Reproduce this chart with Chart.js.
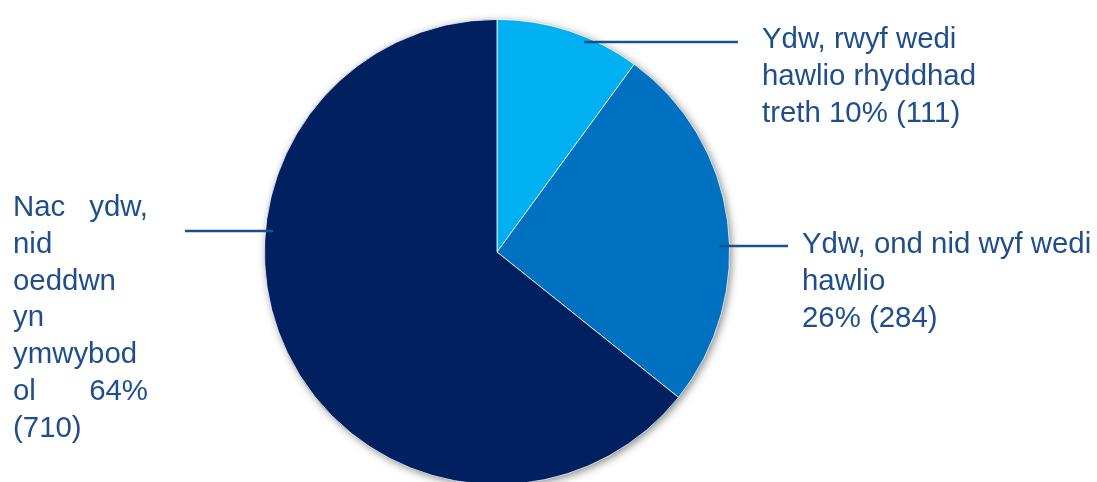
<!DOCTYPE html>
<html>
<head>
<meta charset="utf-8">
<script src="https://cdn.jsdelivr.net/npm/chart.js@4"></script>
<style>
  html, body { margin: 0; padding: 0; background: #fff; overflow: hidden; }
  #wrap { width: 1097px; height: 490px; }
</style>
</head>
<body>
<div id="wrap"><canvas id="pie-chart"></canvas></div>
<script>
// categories, written as the label lines shown beside each slice
var categories = [
  ["Ydw, rwyf wedi", "hawlio rhyddhad", "treth 10% (111)"],
  ["Ydw, ond nid wyf wedi", "hawlio", "26% (284)"],
  ["Nac ydw,", "nid", "oeddwn", "yn", "ymwybod", "ol 64%", "(710)"]
];
var counts = [111, 284, 710];
var sliceColors = ["#00B0F0", "#0070C0", "#002060"];

// where each label sits (annotation layout only)
var labelLayout = [
  { side: 1,  lineY: 42,  lineEnd: 738, inset: 13, textX: 762, firstBase: 48,  justify: 0 },
  { side: 1,  lineY: 246, lineEnd: 788, inset: 10, textX: 802, firstBase: 253, justify: 0 },
  { side: -1, lineY: 231, lineEnd: 185, inset: 8,  textX: 13,  firstBase: 216, justify: 135 }
];
var textColor = "#1F4E8C";
var lineColor = "#1A5090";
var fontSize = 29.4;
var lineHeight = 36.8;

var pieShadow = {
  id: "pieShadow",
  beforeDatasetsDraw: function(chart) {
    var arc = chart.getDatasetMeta(0).data[0];
    if (!arc) return;
    var ctx = chart.ctx;
    ctx.save();
    ctx.shadowColor = "rgba(0,0,0,0.5)";
    ctx.shadowBlur = 8;
    ctx.shadowOffsetX = 2;
    ctx.shadowOffsetY = 2;
    ctx.fillStyle = "#002060";
    ctx.beginPath();
    ctx.arc(arc.x, arc.y, arc.outerRadius - 0.5, 0, Math.PI * 2);
    ctx.fill();
    ctx.restore();
  }
};

var sideLabels = {
  id: "sideLabels",
  afterDatasetsDraw: function(chart) {
    var arc = chart.getDatasetMeta(0).data[0];
    if (!arc) return;
    var ctx = chart.ctx;
    var cx = arc.x, cy = arc.y, r = arc.outerRadius;
    ctx.save();
    ctx.font = fontSize + "px 'Liberation Sans', Arial, sans-serif";
    ctx.textBaseline = "alphabetic";
    for (var i = 0; i < categories.length; i++) {
      var lay = labelLayout[i];
      var dy = lay.lineY - cy;
      var edge = cx + lay.side * Math.sqrt(r * r - dy * dy);
      var x0 = edge - lay.side * lay.inset;
      ctx.strokeStyle = lineColor;
      ctx.lineWidth = 2.5;
      ctx.beginPath();
      ctx.moveTo(x0, lay.lineY);
      ctx.lineTo(lay.lineEnd, lay.lineY);
      ctx.stroke();

      ctx.fillStyle = textColor;
      var lines = categories[i];
      for (var j = 0; j < lines.length; j++) {
        var y = lay.firstBase + j * lineHeight;
        var words = lines[j].split(" ");
        if (lay.justify && words.length > 1 && j < lines.length - 1) {
          var wsum = 0;
          words.forEach(function(w) { wsum += ctx.measureText(w).width; });
          var gap = (lay.justify - wsum) / (words.length - 1);
          var x = lay.textX;
          words.forEach(function(w) {
            ctx.fillText(w, x, y);
            x += ctx.measureText(w).width + gap;
          });
        } else {
          ctx.fillText(lines[j], lay.textX, y);
        }
      }
    }
    ctx.restore();
  }
};

var myPie = new Chart(document.getElementById("pie-chart"), {
  type: 'pie',
  data: {
    labels: categories.map(function(c) { return c.join(" "); }),
    datasets: [{
      data: counts,
      backgroundColor: sliceColors,
      borderColor: "#ffffff",
      borderWidth: 0.8
    }]
  },
  options: {
    responsive: true,
    maintainAspectRatio: false,
    animation: false,
    layout: { padding: { top: 19, bottom: 5, left: 264, right: 367 } },
    plugins: {
      legend: { display: false },
      tooltip: { enabled: false }
    }
  },
  plugins: [pieShadow, sideLabels]
});
</script>
</body>
</html>
